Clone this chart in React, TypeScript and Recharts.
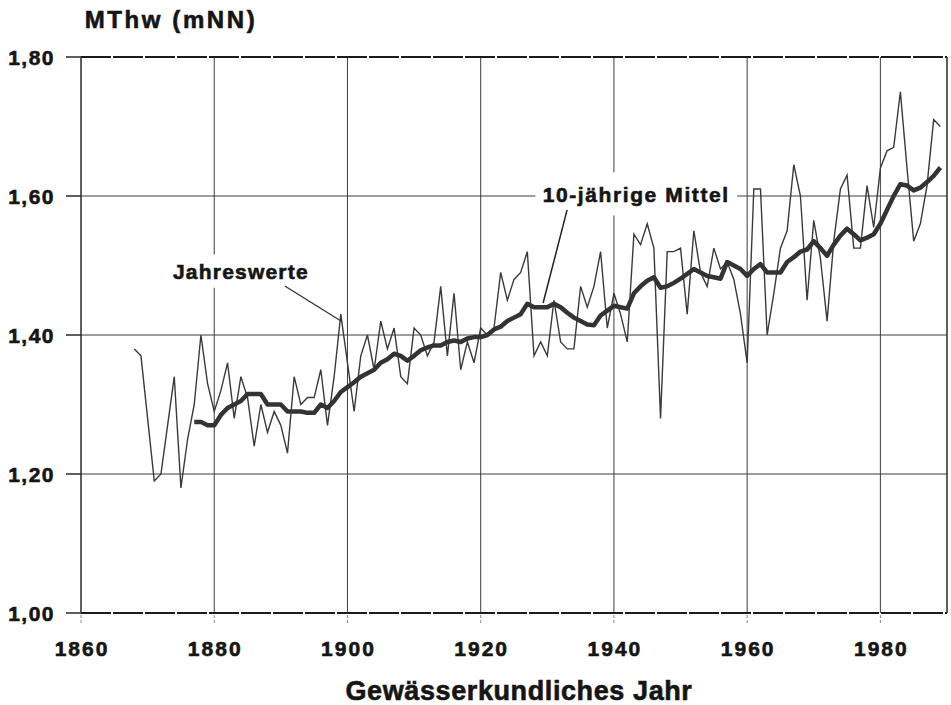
import React from 'react';
import { LineChart, Line, XAxis, YAxis, CartesianGrid, ReferenceLine, ReferenceArea } from 'recharts';

// Annual values (Jahreswerte), MThw in m NN, starting 1868
const annualStart = 1868;
const annualValues = [
  1.38, 1.37,
  1.28, 1.19, 1.20, 1.27, 1.34, 1.18, 1.25, 1.30, 1.40, 1.33,
  1.29, 1.32, 1.36, 1.28, 1.34, 1.31, 1.24, 1.30, 1.26, 1.29,
  1.27, 1.23, 1.34, 1.30, 1.31, 1.31, 1.35, 1.27, 1.34, 1.43,
  1.36, 1.29, 1.37, 1.40, 1.35, 1.42, 1.38, 1.41, 1.34, 1.33,
  1.41, 1.40, 1.37, 1.39, 1.47, 1.37, 1.46, 1.35, 1.39, 1.36,
  1.41, 1.40, 1.41, 1.49, 1.45, 1.48, 1.49, 1.52, 1.37, 1.39,
  1.37, 1.45, 1.39, 1.38, 1.38, 1.47, 1.44, 1.47, 1.52, 1.41,
  1.46, 1.43, 1.39, 1.545, 1.53, 1.56, 1.525, 1.28, 1.52, 1.52,
  1.525, 1.43, 1.55, 1.49, 1.47, 1.525, 1.495, 1.505, 1.48, 1.43,
  1.36, 1.61, 1.61, 1.40, 1.46, 1.525, 1.55, 1.645, 1.60, 1.45,
  1.565, 1.51, 1.42, 1.535, 1.61, 1.63, 1.525, 1.525, 1.615, 1.555,
  1.64, 1.665, 1.67, 1.75, 1.64, 1.535, 1.56, 1.615, 1.71, 1.70,
];

// 10-year running mean (10-jährige Mittel), starting 1877
const meanStart = 1877;
const meanValues = [
  1.275, 1.275, 1.27,
  1.27, 1.285, 1.295, 1.30, 1.305, 1.315, 1.315, 1.315, 1.30, 1.30,
  1.30, 1.29, 1.29, 1.29, 1.288, 1.288, 1.30, 1.295, 1.305, 1.318,
  1.325, 1.332, 1.34, 1.345, 1.35, 1.36, 1.365, 1.373, 1.37, 1.363,
  1.37, 1.378, 1.382, 1.385, 1.385, 1.39, 1.392, 1.39, 1.395, 1.397,
  1.397, 1.40, 1.408, 1.412, 1.42, 1.425, 1.43, 1.445, 1.44, 1.44,
  1.44, 1.445, 1.44, 1.432, 1.425, 1.42, 1.415, 1.414, 1.428, 1.435,
  1.442, 1.44, 1.438, 1.46, 1.47, 1.478, 1.483, 1.468, 1.47, 1.475,
  1.481, 1.488, 1.495, 1.49, 1.485, 1.483, 1.481, 1.505, 1.50, 1.495,
  1.485, 1.495, 1.502, 1.49, 1.49, 1.49, 1.505, 1.512, 1.52, 1.523,
  1.535, 1.525, 1.514, 1.53, 1.543, 1.553, 1.545, 1.536, 1.54, 1.545,
  1.56, 1.58, 1.60, 1.617, 1.615, 1.608, 1.612, 1.62, 1.629, 1.641,
];

const xTicks = [1860, 1880, 1900, 1920, 1940, 1960, 1980];
const yTicks = [1.0, 1.2, 1.4, 1.6, 1.8];
const gridX = [1880, 1900, 1920, 1940, 1960, 1980];
const gridY = [1.2, 1.4, 1.6];

const titleY = 'MThw (mNN)';
const titleX = 'Gewässerkundliches Jahr';
const labelAnnual = 'Jahreswerte';
const labelMean = '10-jährige Mittel';

const rows = annualValues.map((v, i) => {
  const year = annualStart + i;
  const mi = year - meanStart;
  return { year, annual: v, mean: mi >= 0 && mi < meanValues.length ? meanValues[mi] : null };
});

const FONT = '"Liberation Sans", Arial, Helvetica, sans-serif';
const INK = '#151515';
const TXT = { fontFamily: FONT, fontWeight: 'bold' as const, fill: INK, stroke: INK, strokeWidth: 0.6 };

const boxLabel = (text: string, spacing: number, base: number) => (props: any) => {
  const vb = props.viewBox || {};
  const cx = vb.x + vb.width / 2;
  const cy = vb.y + vb.height / 2;
  return (
    <text x={cx} y={cy + base} textAnchor="middle" fontSize={21} {...TXT}
      style={{ letterSpacing: `${spacing}px` }}>{text}</text>
  );
};

const XTick = (props: any) => {
  const { x, y, payload } = props;
  return (
    <text x={x + 1} y={y + 16} textAnchor="middle" fontSize={21} {...TXT}
      style={{ letterSpacing: '2px' }}>{payload.value}</text>
  );
};

const YTick = (props: any) => {
  const { x, y, payload } = props;
  return (
    <text x={x + 2} y={y + 7.5} textAnchor="end" fontSize={21} {...TXT}
      style={{ letterSpacing: '1.5px' }}>{Number(payload.value).toFixed(2).replace('.', ',')}</text>
  );
};

export default function App() {
  return (
    <div style={{ position: 'absolute', left: 0, top: 0, width: 951, height: 705, background: '#fff' }}>
      <LineChart width={951} height={705} data={rows} margin={{ top: 57, right: 4, bottom: 42, left: 11 }}>
        <CartesianGrid stroke="#3c3c3c" strokeWidth={1} horizontalValues={gridY} verticalValues={gridX} />
        <XAxis dataKey="year" type="number" domain={[1860, 1990]} ticks={xTicks} allowDataOverflow
          height={50} tickSize={10} tickMargin={17} tick={<XTick />}
          axisLine={{ stroke: '#1a1a1a', strokeWidth: 2, strokeDasharray: '30 2' }}
          tickLine={{ stroke: '#888', strokeWidth: 1, strokeDasharray: '3 2' }} />
        <YAxis type="number" domain={[1.0, 1.8]} ticks={yTicks} allowDataOverflow width={70}
          tickSize={15} tickMargin={13} tick={<YTick />}
          axisLine={{ stroke: '#2a2a2a', strokeWidth: 1.5 }}
          tickLine={{ stroke: '#2a2a2a', strokeWidth: 1.5 }} />
        <ReferenceLine y={1.8} stroke="#1a1a1a" strokeWidth={2} strokeDasharray="30 2" />
        <ReferenceLine x={1990} stroke="#2a2a2a" strokeWidth={1.5} />
        <ReferenceArea x1={1873} x2={1895} y1={1.468} y2={1.516} fill="#fff" fillOpacity={1} stroke="none"
          label={boxLabel(labelAnnual, 1.2, 7.5)} />
        <ReferenceArea x1={1928.2} x2={1958.5} y1={1.572} y2={1.634} fill="#fff" fillOpacity={1} stroke="none"
          label={boxLabel(labelMean, 1.6, 8)} />
        <ReferenceLine segment={[{ x: 1890.6, y: 1.4705 }, { x: 1899.2, y: 1.419 }]} stroke="#333" strokeWidth={1.3} />
        <ReferenceLine segment={[{ x: 1932.97, y: 1.58 }, { x: 1929.37, y: 1.446 }]} stroke="#222" strokeWidth={1.5} />
        <Line type="linear" dataKey="annual" stroke="#3a3a3a" strokeWidth={1.4} dot={false} isAnimationActive={false} />
        <Line type="linear" dataKey="mean" stroke="#333" strokeWidth={4.5} dot={false} connectNulls={false}
          isAnimationActive={false} strokeLinejoin="round" />
        <text x={171} y={28} textAnchor="middle" fontSize={24} {...TXT}
          style={{ letterSpacing: '2.6px' }}>{titleY}</text>
        <text x={519} y={700} textAnchor="middle" fontSize={27} {...TXT}
          style={{ letterSpacing: '0.6px' }}>{titleX}</text>
      </LineChart>
    </div>
  );
}
